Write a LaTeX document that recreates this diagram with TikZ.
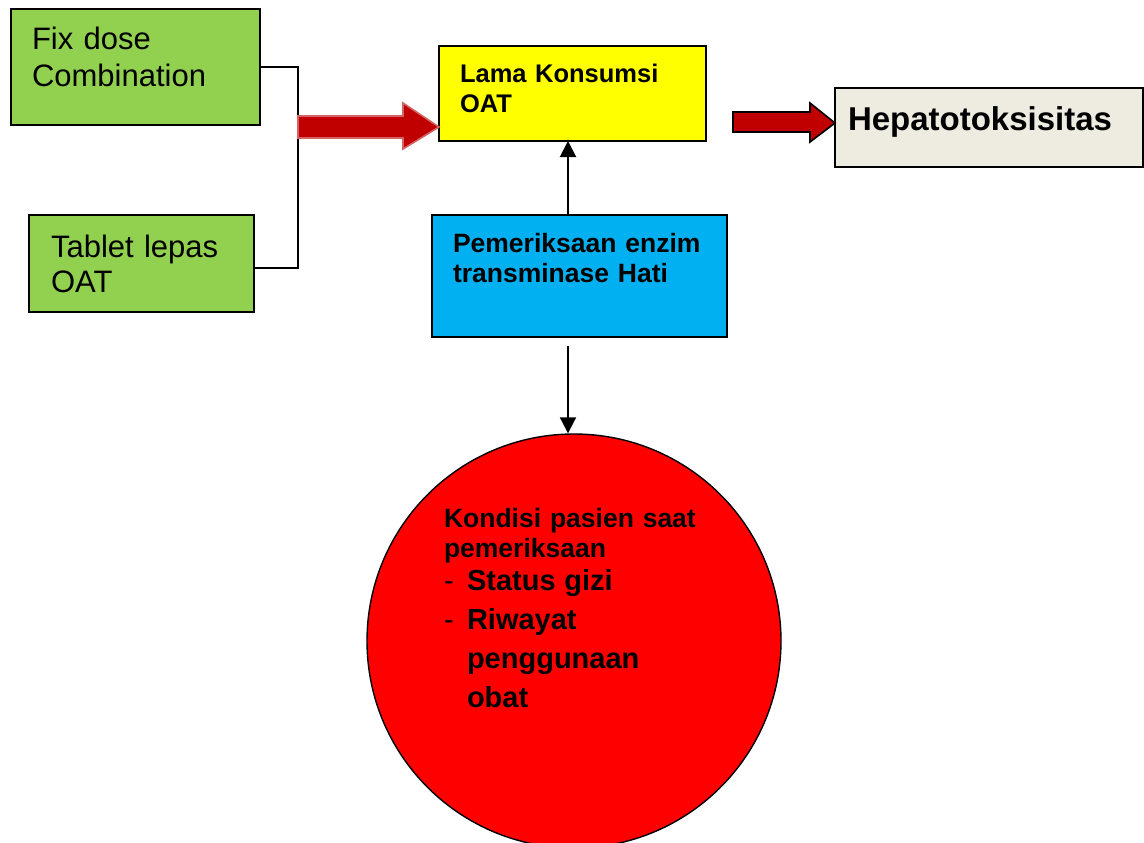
\documentclass[tikz,border=0pt]{standalone}
\usepackage{fontspec}
\setmainfont{Liberation Sans}
\usetikzlibrary{arrows.meta}

\definecolor{hijau}{RGB}{146,208,80}
\definecolor{kuning}{RGB}{255,255,0}
\definecolor{biru}{RGB}{0,176,240}
\definecolor{krem}{RGB}{238,236,225}
\definecolor{merah}{RGB}{255,0,0}
\definecolor{merahtua}{RGB}{192,0,0}
\definecolor{merahmuda}{RGB}{212,100,100}

\begin{document}
\begin{tikzpicture}[x=1pt, y=-1pt,
    kotak/.style={draw, line width=1.6pt, anchor=north west, outer sep=0pt,
      inner ysep=0pt, align=left},
    panah/.style={line width=2pt, -{Triangle[length=16pt,width=16pt]}},
    blok/.style={fill=merahtua, line width=1.6pt}]
  \useasboundingbox (0,0) rectangle (1144,843);

  % kotak obat
  \node[kotak, fill=hijau, inner xsep=21pt, text width=207pt,
    text height=41pt, text depth=75pt, font=\fontsize{31}{37}\selectfont]
    (fdc) at (11,9) {Fix dose\\Combination};
  \node[kotak, fill=hijau, inner xsep=22pt, text width=181pt,
    text height=42pt, text depth=55pt, font=\fontsize{31}{35}\selectfont]
    (tablet) at (29,215) {Tablet lepas\\OAT};

  % kotak tengah
  \node[kotak, fill=kuning, inner xsep=21pt, text width=225pt,
    text height=36pt, text depth=59pt, font=\bfseries\fontsize{25.5}{31}\selectfont]
    (lama) at (439,46) {Lama Konsumsi\\OAT};
  \node[kotak, fill=krem, inner xsep=13pt, text width=282pt,
    text height=42pt, text depth=37pt, font=\bfseries\fontsize{33}{38}\selectfont]
    (hepato) at (835,88) {Hepatotoksisitas};
  \node[kotak, fill=biru, inner xsep=21pt, text width=253pt,
    text height=37pt, text depth=85pt, font=\bfseries\fontsize{26.5}{30}\selectfont]
    (enzim) at (432,215) {Pemeriksaan enzim\\transminase Hati};

  % lingkaran kondisi pasien
  \node[circle, draw, line width=1.4pt, fill=merah, minimum size=414pt,
    inner sep=0pt, text width=260pt, align=left, text height=30pt, text depth=258pt,
    font=\bfseries\fontsize{26.5}{30}\selectfont]
    (kondisi) at (574,641) {%
      Kondisi pasien saat\\pemeriksaan\par
      {\fontsize{29}{33}\selectfont \makebox[23pt][l]{\mdseries -}Status gizi\par}
      {\fontsize{29}{39}\selectfont \makebox[23pt][l]{\mdseries -}Riwayat\\
        \hspace*{23pt}penggunaan\\\hspace*{23pt}obat\par}};

  \coordinate (sambung) at (298,127);
  \coordinate (sumbu) at (568,0);

  % garis kurung
  \draw[line width=1.4pt] (fdc.east) -| (sambung) |- ([yshift=-4.5pt]tablet.east);

  % panah blok
  \filldraw[blok, draw=merahmuda] (sambung) ++(0,-11) -- ++(105,0) -- ++(0,-13)
    -- (lama.west |- sambung) -- (403,149) -- ++(0,-11) -- ++(-105,0) -- cycle;
  \filldraw[blok, draw=black] (733,112) -- ++(77,0) -- ++(0,-9)
    -- (hepato.west |- 0,123) -- (810,142) -- ++(0,-10) -- ++(-77,0) -- cycle;

  % panah tipis
  \draw[panah] (enzim.north -| sumbu) -- (lama.south -| sumbu);
  \draw[panah] ([yshift=-9pt]enzim.south -| sumbu) -- (kondisi.north -| sumbu);
\end{tikzpicture}
\end{document}
